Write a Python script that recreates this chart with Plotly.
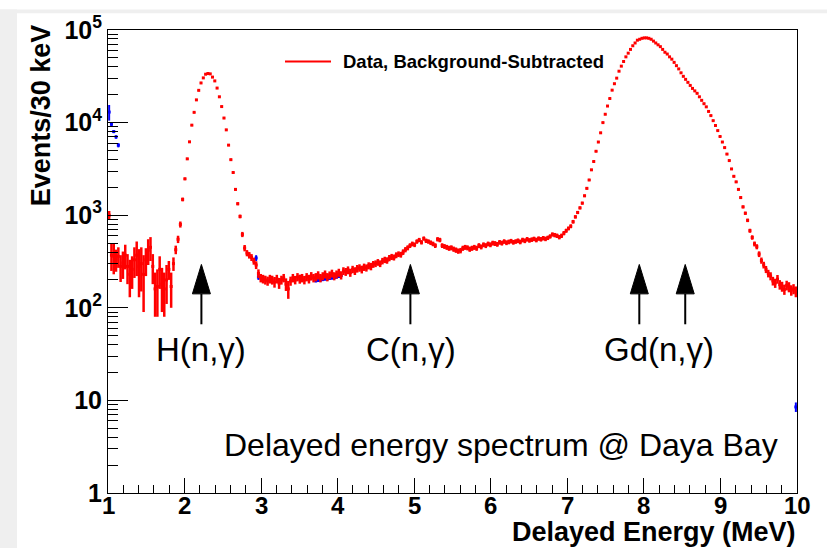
import plotly.graph_objects as go

# ---------------- data ----------------
bin_low = 1.0
bin_width = 0.03  # 30 keV bins
counts = [
    1000, 370, 360, 335, 360, 280, 305, 370, 280, 230,
    260, 330, 370, 280, 300, 230, 330, 420, 450, 280,
    160, 170, 260, 180, 160, 200, 260, 170, 300, 424,
    550, 795, 1480, 2470, 4060, 6200, 9380, 12900, 17600, 22300,
    26800, 30400, 33300, 33900, 33600, 31000, 28200, 23600, 19000, 14900,
    11200, 8350, 5710, 3980, 2890, 1900, 1330, 970, 620, 442,
    390, 370, 350, 320, 290, 235, 210, 205, 200, 195,
    205, 200, 190, 205, 185, 200, 210, 180, 160, 195,
    210, 200, 215, 205, 210, 200, 215, 205, 220, 210,
    215, 225, 210, 220, 230, 215, 225, 235, 220, 230,
    240, 225, 250, 245, 255, 240, 260, 250, 265, 270,
    260, 275, 270, 285, 280, 295, 300, 310, 300, 320,
    330, 325, 345, 355, 350, 370, 380, 375, 400, 425,
    445, 470, 490, 480, 520, 540, 510, 560, 530, 520,
    505, 490, 470, 550, 540, 470, 460, 450, 440, 445,
    430, 420, 410, 415, 440, 450, 445, 430, 440, 450,
    440, 470, 455, 480, 470, 490, 480, 500, 495, 485,
    510, 500, 520, 505, 515, 525, 510, 520, 530, 515,
    540, 530, 550, 535, 545, 555, 540, 560, 550, 565,
    555, 570, 590, 620, 610, 600, 580, 600, 640, 680,
    720, 760, 850, 960, 1070, 1200, 1350, 1620, 1950, 2400,
    3090, 3800, 4900, 6170, 7760, 10000, 12300, 15100, 18200, 22400,
    26300, 30200, 35900, 40700, 45700, 51300, 56200, 61700, 67600, 72400,
    77600, 79400, 81300, 82200, 82200, 81300, 79400, 75900, 72400, 69200,
    66100, 61700, 57500, 55000, 51300, 48400, 44700, 41200, 38000, 34500,
    31600, 29300, 27200, 25200, 23400, 22000, 20700, 19000, 17400, 16000,
    14800, 13200, 11900, 10500, 9300, 8200, 7080, 6170, 5370, 4570,
    3890, 3160, 2630, 2290, 1900, 1550, 1230, 1050, 880, 680,
    575, 490, 457, 380, 324, 290, 260, 235, 220, 195,
    185, 204, 178, 170, 158, 175, 168, 155, 160, 150,
]
errors = [
    110, 120, 130, 90, 90, 90, 100, 110, 100, 100,
    100, 120, 150, 150, 150, 140, 110, 130, 130, 100,
    80, 90, 100, 90, 80, 90, 60, 70, 50, 45,
    50, 60, 70, 80, 100, 110, 130, 150, 160, 170,
    180, 190, 190, 190, 190, 180, 170, 160, 150, 130,
    120, 100, 90, 80, 70, 60, 50, 45, 40, 35,
    30, 30, 30, 28, 28, 25, 22, 22, 22, 22,
    22, 22, 25, 22, 25, 22, 22, 28, 35, 22,
    22, 21, 22, 23, 22, 21, 22, 22, 23, 22,
    22, 23, 22, 22, 23, 22, 22, 23, 22, 23,
    24, 23, 24, 24, 25, 24, 24, 24, 25, 25,
    25, 25, 24, 25, 26, 25, 25, 26, 25, 26,
    26, 26, 27, 27, 26, 27, 27, 27, 28, 28,
    28, 28, 29, 28, 29, 29, 28, 30, 29, 29,
    29, 28, 28, 30, 30, 28, 28, 28, 28, 28,
    28, 28, 27, 28, 28, 28, 28, 28, 28, 28,
    28, 29, 28, 29, 29, 29, 29, 30, 30, 29,
    30, 30, 30, 30, 30, 30, 30, 30, 31, 30,
    31, 31, 31, 31, 31, 31, 31, 31, 31, 31,
    31, 31, 32, 33, 33, 33, 32, 33, 34, 35,
    36, 37, 39, 41, 43, 45, 48, 52, 57, 63,
    70, 78, 88, 98, 110, 125, 138, 152, 166, 184,
    200, 215, 235, 250, 265, 280, 293, 308, 322, 333,
    345, 348, 352, 355, 355, 352, 348, 340, 333, 325,
    318, 308, 300, 292, 282, 274, 263, 252, 242, 230,
    220, 212, 205, 197, 190, 185, 178, 172, 164, 157,
    151, 143, 135, 127, 120, 113, 105, 98, 92, 85,
    78, 70, 64, 60, 55, 50, 45, 42, 38, 34,
    32, 30, 29, 27, 25, 24, 23, 22, 22, 21,
    21, 22, 21, 21, 20, 21, 21, 20, 20, 20,
]
energies = [bin_low + bin_width * (i + 0.5) for i in range(len(counts))]

blue_E = [1.015, 1.045, 1.075, 1.105, 1.135, 2.935, 2.965, 3.715, 3.745, 3.775,
          3.805, 3.835, 3.865, 3.895, 3.925, 3.955, 3.985, 4.015, 4.045, 9.985]
blue_N = [13000, 9600, 8000, 7000, 5700, 345, 215, 196, 198, 200,
          202, 205, 206, 208, 210, 212, 215, 218, 222, 8.5]
blue_err = [2500, 400, 300, 300, 300, 25, 15, 8, 8, 8,
            8, 8, 8, 8, 8, 8, 8, 8, 8, 1]

x_tickvals = [1, 2, 3, 4, 5, 6, 7, 8, 9, 10]
x_ticktext = ["1", "2", "3", "4", "5", "6", "7", "8", "9", "10"]
y_tickvals = [1, 10, 100, 1000, 10000, 100000]
y_ticktext = ["1", "10", "10<sup>2</sup>", "10<sup>3</sup>", "10<sup>4</sup>", "10<sup>5</sup>"]

capture_lines = [2.22, 4.95, 7.94, 8.54]   # arrow positions (MeV)
capture_labels = ["H(n,γ)", "C(n,γ)", "Gd(n,γ)"]
capture_label_x = [2.21, 4.96, 8.20]

# ---------------- figure ----------------
W, H = 827, 549
L, R, T, B = 108, 30, 21, 56
pw, ph = W - L - R, H - T - B

def px2x(px):
    return (px - L) / pw

def py2y(py):
    return (H - B - py) / ph

FONT_B = "Liberation Sans, Arial, Helvetica, sans-serif"

fig = go.Figure()
fig.add_trace(go.Scatter(
    x=blue_E, y=blue_N, mode="markers",
    marker=dict(symbol="square", size=3, color="#0000ff", line=dict(width=0)),
    error_y=dict(type="data", array=blue_err, color="#0000ff", thickness=2, width=0),
    showlegend=False, hoverinfo="skip"))
fig.add_trace(go.Scatter(
    x=energies, y=counts, mode="markers",
    marker=dict(symbol="square", size=3, color="#ff0000", line=dict(width=0)),
    error_y=dict(type="data", array=errors, color="#ff0000", thickness=2.5, width=0),
    showlegend=False))

minor_x = [v / 10 for v in range(10, 101, 2) if v % 10 != 0]
minor_y = [m * 10 ** k for k in range(5) for m in range(2, 10)]

fig.update_layout(
    width=W, height=H,
    margin=dict(l=L, r=R, t=T, b=B),
    paper_bgcolor="white", plot_bgcolor="white",
    showlegend=False,
    xaxis=dict(range=[1, 10], showgrid=False, zeroline=False,
               showline=True, linecolor="black", linewidth=1, mirror=True,
               ticks="inside", ticklen=15, tickwidth=1, tickcolor="black",
               tickmode="array", tickvals=x_tickvals, showticklabels=False,
               minor=dict(ticks="inside", ticklen=8, tickcolor="black", tickwidth=1,
                          tickvals=minor_x)),
    yaxis=dict(type="log", range=[0, 5], showgrid=False, zeroline=False,
               showline=True, linecolor="black", linewidth=1, mirror=True,
               ticks="inside", ticklen=20, tickwidth=1, tickcolor="black",
               tickmode="array", tickvals=y_tickvals,
               ticktext=["<b>" + t + "</b>" for t in y_ticktext],
               tickfont=dict(family=FONT_B, size=25, color="black"),
               minor=dict(ticks="inside", ticklen=10, tickcolor="black", tickwidth=1,
                          tickvals=minor_y)),
)

shapes = []
# grey page strips (top and left)
shapes.append(dict(type="rect", xref="paper", yref="paper",
                   x0=px2x(0), x1=px2x(W), y0=py2y(4), y1=py2y(0),
                   fillcolor="#efefef", line=dict(width=0), layer="below"))
shapes.append(dict(type="rect", xref="paper", yref="paper",
                   x0=px2x(0), x1=px2x(17), y0=py2y(H), y1=py2y(0),
                   fillcolor="#efefef", line=dict(width=0), layer="below"))
# arrows
tip, base, bottom = py2y(260), py2y(290), py2y(321)
half_w = 9 / (pw / 9.0)
for xe in capture_lines:
    shapes.append(dict(type="line", xref="x", yref="paper", x0=xe, x1=xe,
                       y0=bottom, y1=base, line=dict(color="black", width=2)))
    shapes.append(dict(type="path", xref="x", yref="paper",
                       path=f"M {xe - half_w},{base} L {xe + half_w},{base} L {xe},{tip} Z",
                       fillcolor="black", line=dict(color="black", width=1)))
# legend line
shapes.append(dict(type="line", xref="paper", yref="paper",
                   x0=px2x(285), x1=px2x(331), y0=py2y(53), y1=py2y(53),
                   line=dict(color="#ff0000", width=2)))
fig.update_layout(shapes=shapes)

ann = []
# x tick labels (ROOT style, close under the axis)
for tv, tt in zip(x_tickvals, x_ticktext):
    ann.append(dict(text="<b>" + tt + "</b>", xref="x", yref="paper", x=tv, y=py2y(506),
                    showarrow=False, xanchor="center", yanchor="middle",
                    font=dict(family=FONT_B, size=24, color="black")))
ann.append(dict(text="<b>Events/30 keV</b>", xref="paper", yref="paper",
                x=px2x(41), y=py2y(108), textangle=-90, showarrow=False,
                xanchor="center", yanchor="middle",
                font=dict(family=FONT_B, size=27, color="black")))
ann.append(dict(text="<b>Delayed Energy (MeV)</b>", xref="paper", yref="paper",
                x=px2x(798), y=py2y(533), showarrow=False,
                xanchor="right", yanchor="middle",
                font=dict(family=FONT_B, size=27, color="black")))
for lab, xl in zip(capture_labels, capture_label_x):
    ann.append(dict(text=lab, xref="x", yref="paper", x=xl, y=py2y(347),
                    showarrow=False, xanchor="center", yanchor="middle",
                    font=dict(family=FONT_B, size=33, color="black")))
ann.append(dict(text="Delayed energy spectrum @ Daya Bay", xref="paper", yref="paper",
                x=px2x(501), y=py2y(444), showarrow=False,
                xanchor="center", yanchor="middle",
                font=dict(family=FONT_B, size=32, color="black")))
ann.append(dict(text="<b>Data, Background-Subtracted</b>", xref="paper", yref="paper",
                x=px2x(341), y=py2y(53), showarrow=False,
                xanchor="left", yanchor="middle",
                font=dict(family=FONT_B, size=18.5, color="black")))
fig.update_layout(annotations=ann)

fig.write_html("out.html")
